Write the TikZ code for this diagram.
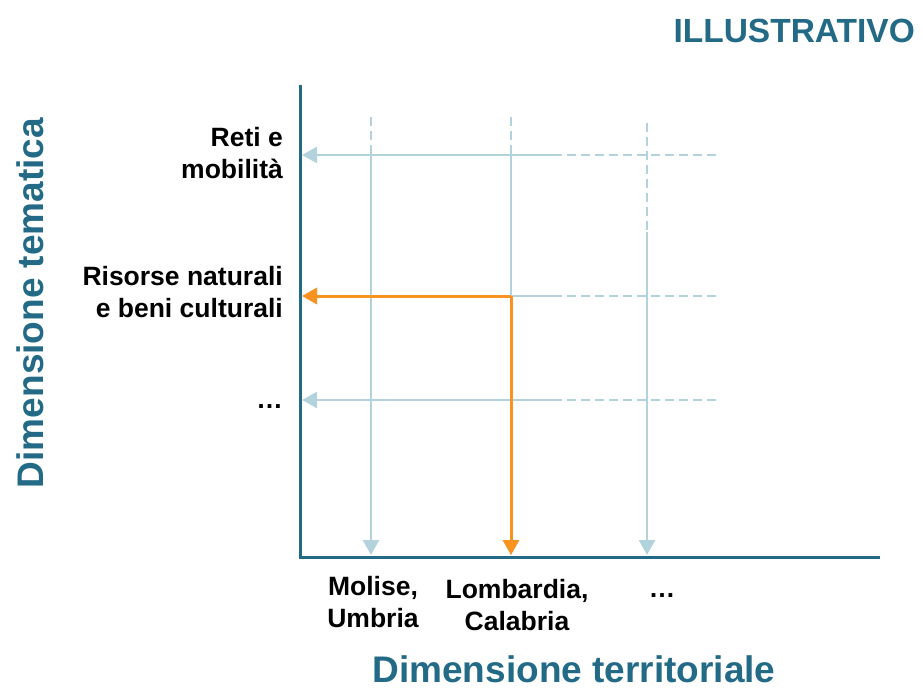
\documentclass[tikz,border=0pt]{standalone}
\usepackage{fontspec}
\setmainfont{Liberation Sans}
\usetikzlibrary{arrows.meta}
\definecolor{axisblue}{HTML}{236A87}
\definecolor{lightb}{HTML}{B2D3DE}
\definecolor{selorange}{HTML}{F7931E}
\begin{document}
\begin{tikzpicture}[x=1pt,y=-1pt,
  gridline/.style={draw=lightb, line width=2.5pt},
  gridarrow/.style={gridline, -{Triangle[length=15pt,width=16pt]}},
  griddash/.style={draw=lightb, line width=2.5pt, dash pattern=on 9pt off 5pt},
  selarrow/.style={draw=selorange, line width=3pt, -{Triangle[length=15pt,width=16pt]}},
  axisline/.style={draw=axisblue, line width=3pt},
  lbl/.style={font=\bfseries\fontsize{26.5}{32}\selectfont, align=right, inner sep=0pt, text=black},
  lblc/.style={lbl, align=center},
  title/.style={font=\bfseries\fontsize{37}{40}\selectfont, text=axisblue, inner sep=0pt},
  tag/.style={font=\bfseries\fontsize{33.5}{36}\selectfont, text=axisblue, inner sep=0pt}]
\useasboundingbox (0,0) rectangle (923,688);

% axes
\coordinate (atop) at (300,85);
\coordinate (aorig) at (300,557);
\coordinate (aright) at (880,557);
\draw[axisline] (atop) -- (aorig) -- (aright);

% row coordinates
\coordinate (r1s) at (553,155); \coordinate (r1e) at (302,155);
\coordinate (r1da) at (483,155); \coordinate (r1db) at (716,155);
\coordinate (r2s) at (553,296); \coordinate (r2e) at (302,296);
\coordinate (r2da) at (483,296); \coordinate (r2db) at (716,296);
\coordinate (r3s) at (553,400); \coordinate (r3e) at (302,400);
\coordinate (r3da) at (483,400); \coordinate (r3db) at (716,400);
% column coordinates
\coordinate (c1da) at (371,117); \coordinate (c1db) at (371,349);
\coordinate (c1s) at (371,155); \coordinate (c1e) at (371,555);
\coordinate (c2da) at (511,117); \coordinate (c2db) at (511,349);
\coordinate (c2s) at (511,155); \coordinate (c2e) at (511,555);
\coordinate (c3da) at (647,123); \coordinate (c3db) at (647,232);
\coordinate (c3s) at (647,232); \coordinate (c3e) at (647,555);
\coordinate (sel) at (511,296);

% dashed extensions
\draw[griddash] (r1da) -- (r1db);
\draw[griddash] (r2da) -- (r2db);
\draw[griddash] (r3da) -- (r3db);
\draw[griddash] (c1da) -- (c1db);
\draw[griddash] (c2da) -- (c2db);
\draw[griddash] (c3da) -- (c3db);

% solid arrows
\draw[gridarrow] (r1s) -- (r1e);
\draw[gridarrow] (r2s) -- (r2e);
\draw[gridarrow] (r3s) -- (r3e);
\draw[gridarrow] (c1s) -- (c1e);
\draw[gridarrow] (c2s) -- (c2e);
\draw[gridarrow] (c3s) -- (c3e);

% selected
\draw[selarrow] (sel) -- (c2e);
\draw[selarrow] (sel) -- (r2e);

% labels
\node[lbl, anchor=east] (l1) at (283,153) {Reti e\\mobilità};
\node[lbl, anchor=east] (l2) at (283,292) {Risorse naturali\\e beni culturali};
\node[lbl, anchor=base east] (l3) at (283,408) {…};
\node[lblc] (b1) at (373,602) {Molise,\\Umbria};
\node[lblc] (b2) at (517,605) {Lombardia,\\Calabria};
\node[lbl, anchor=base] (b3) at (662,597) {…};

\node[title, rotate=90, anchor=base] (ty) at (43,303) {Dimensione tematica};
\node[title, anchor=base] (tx) at (574,682) {Dimensione territoriale};
\node[tag, anchor=base east] (tag) at (915,42) {ILLUSTRATIVO};
\end{tikzpicture}
\end{document}
